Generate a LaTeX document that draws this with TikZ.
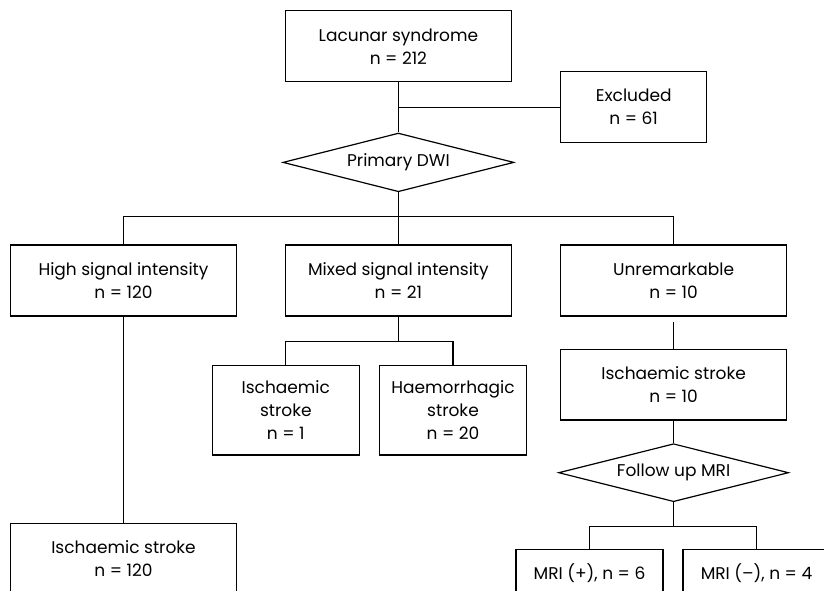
\documentclass[tikz,border=0pt]{standalone}
\usepackage{fontspec}
\setmainfont{Poppins}
\usetikzlibrary{shapes.geometric}
\begin{document}
\begin{tikzpicture}[x=1pt,y=-1pt,
  every node/.style={font=\fontsize{17}{23}\selectfont, text=black},
  box/.style={draw, line width=1.2pt, inner sep=0pt, align=center, minimum width=226pt, minimum height=71pt},
  sbox/.style={draw, line width=1.2pt, inner sep=0pt, align=center, minimum width=147pt, minimum height=89.7pt},
  dia/.style={draw, line width=1.2pt, shape=diamond, aspect=3.9, inner sep=0pt, minimum width=231pt, minimum height=58.7pt},
  conn/.style={line width=1.2pt}]
\useasboundingbox (0,0) rectangle (824,590);
\clip (0,0) rectangle (824,590);
\node[box] (lac) at (398.4,46.3) {Lacunar syndrome\\n = 212};
\node[box, minimum width=146pt] (exc) at (633.7,107.2) {Excluded\\n = 61};
\node[dia] (dwi) at (398.4,162.4) {Primary DWI};
\node[box] (high) at (123.5,280.5) {High signal intensity\\n = 120};
\node[box] (mixed) at (398.4,280.5) {Mixed signal intensity\\n = 21};
\node[box] (unrem) at (673.6,280.5) {Unremarkable\\n = 10};
\node[box] (isc120) at (123.5,558.8) {Ischaemic stroke\\n = 120};
\node[sbox] (isc1) at (285.8,410.2) {Ischaemic\\stroke\\n = 1};
\node[sbox] (haem) at (453,410.2) {Haemorrhagic\\stroke\\n = 20};
\node[box, minimum height=70.7pt] (isc10) at (673.6,384.7) {Ischaemic stroke\\n = 10};
\node[dia, minimum width=230pt, minimum height=58pt] (fu) at (673.6,472.7) {Follow up MRI};
\node[sbox, minimum height=47pt] (mripos) at (589.5,573) {MRI (+), n = 6};
\node[sbox, minimum height=47pt] (mrineg) at (756.5,573) {MRI (–), n = 4};
\coordinate (b1) at (398.4,216.5);
\coordinate (b2) at (398.4,341.5);
\coordinate (b3) at (673.6,526.5);
\draw[conn] (lac) -- (dwi);
\draw[conn] (exc.west) -- (exc.west -| lac.south);
\draw[conn] (dwi) -- (b1);
\draw[conn] (high.north) |- (b1) -| (unrem.north);
\draw[conn] (b1) -- (mixed);
\draw[conn] (high) -- (isc120);
\draw[conn] (mixed) -- (b2);
\draw[conn] (isc1.north) |- (b2) -| (haem.north);
\draw[conn, shorten <=5pt] (unrem) -- (isc10);
\draw[conn] (isc10) -- (fu);
\draw[conn] (fu) -- (b3);
\draw[conn] (mripos.north) |- (b3) -| (mrineg.north);
\end{tikzpicture}
\end{document}
